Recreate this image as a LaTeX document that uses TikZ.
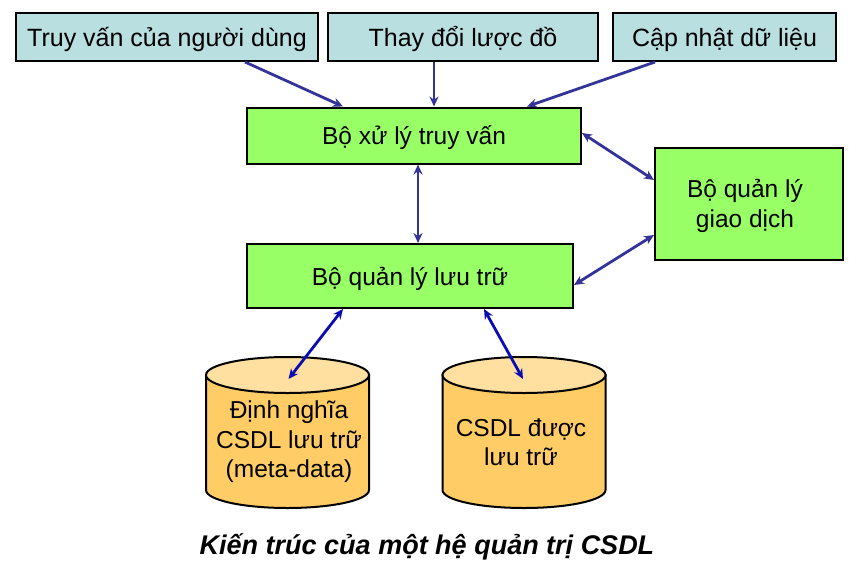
\documentclass[tikz,border=0pt]{standalone}
\usepackage{fontspec}
\setmainfont{Liberation Sans}
\usetikzlibrary{arrows.meta}
\definecolor{topfill}{HTML}{B9DFE1}
\definecolor{grn}{HTML}{99FF66}
\definecolor{cylbody}{HTML}{FFCC66}
\definecolor{cyltop}{HTML}{FFE0A0}
\definecolor{arrblue}{HTML}{333399}
\definecolor{arrblue2}{HTML}{0C0CB4}
\tikzset{
  topbox/.style={draw=black, line width=2pt, fill=topfill, minimum height=48pt, inner sep=0pt, text height=22pt, text depth=4pt, font=\fontsize{25}{29}\selectfont},
  grnbox/.style={draw=black, line width=2pt, fill=grn, inner sep=0pt, text height=22pt, text depth=3.5pt, font=\fontsize{24.5}{30}\selectfont},
  arr/.style={draw=arrblue, line width=2.8pt, -{Stealth[length=10pt,width=9pt]}},
  biarr/.style={draw=arrblue, line width=2.8pt, {Stealth[length=10pt,width=9pt]}-{Stealth[length=10pt,width=9pt]}},
  biarrb/.style={draw=arrblue2, line width=2.8pt, {Stealth[length=10pt,width=9pt]}-{Stealth[length=10pt,width=9pt]}},
  cyltext/.style={font=\fontsize{24.5}{29.5}\selectfont, align=center, inner sep=0pt},
  cylline/.style={draw=black, line width=2pt}
}
\begin{document}
\begin{tikzpicture}[x=1pt,y=-1pt]
\path[use as bounding box] (0,0) rectangle (849,574);
% top boxes
\node[topbox, minimum width=302pt] (t1) at (167,37) {Truy vấn của người dùng};
\node[topbox, minimum width=270pt] (t2) at (463,37) {Thay đổi lược đồ};
\node[topbox, minimum width=223pt] (t3) at (724.5,37) {Cập nhật dữ liệu};
% green boxes
\node[grnbox, minimum width=334pt, minimum height=56pt] (q) at (414,135.5) {Bộ xử lý truy vấn};
\node[grnbox, minimum width=326pt, minimum height=64pt] (s) at (410,276) {Bộ quản lý lưu trữ};
\node[draw=black, line width=2pt, fill=grn, minimum width=188pt, minimum height=112pt] (tm) at (749,204) {};
\node[font=\fontsize{24.5}{30}\selectfont, align=center, inner sep=0pt] (tmt) at (745,206) {Bộ quản lý\\giao dịch};
% cylinders
\foreach \cx/\nm in {287.5/c1, 524/c2}{
  \path[fill=cylbody, cylline] (\cx-81.5,375) -- (\cx-81.5,490)
     arc[start angle=180, end angle=360, x radius=81.5pt, y radius=18pt]
     -- (\cx+81.5,375) -- cycle;
  \draw[cylline, fill=cyltop] (\cx,375) ellipse [x radius=81.5pt, y radius=18pt];
  \coordinate (\nm) at (\cx,375);
}
\node[cyltext] (c1t) at (289,442) {Định nghĩa\\CSDL lưu trữ\\(meta-data)};
\node[cyltext] (c2t) at (521,442) {CSDL được\\lưu trữ};
% arrows
\draw[arr] ([xshift=78pt]t1.south) -- ([xshift=-71pt]q.north);
\draw[arr] ([xshift=-29pt]t2.south) -- ([xshift=20pt]q.north);
\draw[arr] ([xshift=-69.5pt]t3.south) -- ([xshift=113pt]q.north);
\draw[biarr] ([xshift=4pt]q.south) -- ([xshift=8pt]s.north);
\draw[biarr] ([yshift=2.5pt]q.east) -- ([yshift=24pt]tm.west);
\draw[biarr] ([yshift=-31pt]tm.west) -- ([yshift=-9pt]s.east);
\draw[biarrb] ([xshift=-67pt]s.south) -- ([xshift=1pt,yshift=-4pt]c1);
\draw[biarrb] ([xshift=74pt]s.south) -- ([xshift=-1pt,yshift=-4pt]c2);
% caption
\node[font=\fontsize{27}{31}\selectfont\bfseries\itshape] (cap) at (427,547) {Kiến trúc của một hệ quản trị CSDL};
\end{tikzpicture}
\end{document}
